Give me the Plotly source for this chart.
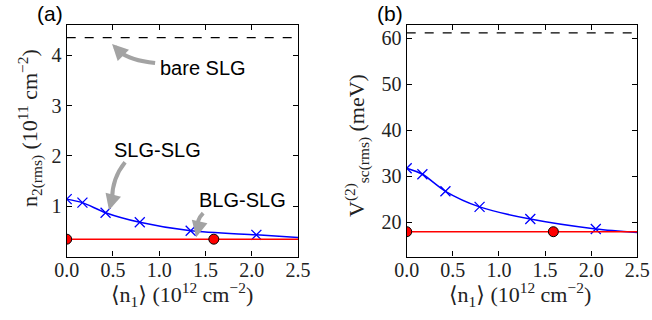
import plotly.graph_objects as go

# ---- data ----
n1_pts = [0.0, 0.17, 0.42, 0.79, 1.34, 2.05]          # <n1> (1e12 cm^-2), SLG-SLG samples
n2_slg = [1.14, 1.07, 0.87, 0.68, 0.51, 0.43]          # n2(rms) (1e11 cm^-2)
vsc_slg = [31.7, 30.4, 26.7, 23.3, 20.65, 18.5]        # Vsc(rms) (meV)
n1_end = 2.5
n2_slg_end = 0.378
vsc_slg_end = 17.75

n1_blg = [0.0, 1.59]                                   # BLG-SLG samples
n2_blg = 0.344
vsc_blg = 17.9

n2_bare = 4.35                                         # bare SLG levels
vsc_bare = 61.2

x_ticks = [0.0, 0.5, 1.0, 1.5, 2.0, 2.5]
x_tick_text = ["0.0", "0.5", "1.0", "1.5", "2.0", "2.5"]
y1_ticks = [1, 2, 3, 4]
y2_ticks = [20, 30, 40, 50, 60]

W, H = 652, 320
SERIF = "Liberation Serif, 'Times New Roman', 'DejaVu Serif', serif"
SANS = "Liberation Sans, Arial, sans-serif"
GRAY = "#a3a3a3"

fig = go.Figure()

def add_panel(xa, ya, slg, slg_end, blg, bare):
    # smooth SLG-SLG curve
    fig.add_trace(go.Scatter(
        x=n1_pts + [n1_end], y=slg + [slg_end], mode="lines",
        line=dict(color="#0000ff", width=1.5, shape="spline", smoothing=0.8),
        xaxis=xa, yaxis=ya, showlegend=False, hoverinfo="skip"))
    fig.add_trace(go.Scatter(
        x=n1_pts, y=slg, mode="markers",
        marker=dict(symbol="x-thin", size=10, line=dict(color="#0000ff", width=1.3)),
        xaxis=xa, yaxis=ya, showlegend=False))
    # BLG-SLG flat level
    fig.add_trace(go.Scatter(
        x=[n1_blg[0], n1_end], y=[blg, blg], mode="lines",
        line=dict(color="#ff0000", width=1.5),
        xaxis=xa, yaxis=ya, showlegend=False, hoverinfo="skip"))
    fig.add_trace(go.Scatter(
        x=n1_blg, y=[blg] * len(n1_blg), mode="markers",
        marker=dict(symbol="circle", size=10, color="#ff0000",
                    line=dict(color="black", width=1)),
        xaxis=xa, yaxis=ya, showlegend=False))
    # bare SLG level
    fig.add_trace(go.Scatter(
        x=[0, n1_end], y=[bare, bare], mode="lines",
        line=dict(color="black", width=1.2, dash="dash"),
        xaxis=xa, yaxis=ya, showlegend=False, hoverinfo="skip"))

add_panel("x", "y", n2_slg, n2_slg_end, n2_blg, n2_bare)
add_panel("x2", "y2", vsc_slg, vsc_slg_end, vsc_blg, vsc_bare)

axis_common = dict(
    showgrid=False, zeroline=False, showline=True, linecolor="black", linewidth=1.2,
    mirror="ticks", ticks="inside", ticklen=5, tickwidth=1, tickcolor="black",
    tickfont=dict(family=SERIF, size=20, color="#222"), automargin=False,
)

fig.update_layout(
    width=W, height=H, margin=dict(l=0, r=0, t=0, b=0),
    paper_bgcolor="white", plot_bgcolor="white",
    xaxis=dict(domain=[66.7 / W, 298 / W], range=[0, 2.5], tickvals=x_ticks,
               ticktext=x_tick_text, anchor="y", ticklabelstandoff=-5, **axis_common),
    yaxis=dict(domain=[1 - 256.5 / H, 1 - 25 / H], range=[0, 4.6], tickvals=y1_ticks,
               anchor="x", **axis_common),
    xaxis2=dict(domain=[406.7 / W, 637.3 / W], range=[0, 2.5], tickvals=x_ticks,
                ticktext=x_tick_text, anchor="y2", ticklabelstandoff=-5, **axis_common),
    yaxis2=dict(domain=[1 - 256.5 / H, 1 - 25 / H], range=[12.5, 62.9], tickvals=y2_ticks,
                anchor="x2", **axis_common),
)

ann = []

def paper_text(px, py, text, font, angle=0):
    ann.append(dict(x=px / W, y=1 - py / H, xref="paper", yref="paper", text=text,
                    xanchor="center", yanchor="middle", textangle=angle,
                    showarrow=False, font=font))

title_font = dict(family=SERIF, size=22, color="#222")
xlab = "⟨n<sub>1</sub>⟩ (10<sup>12</sup> cm<sup>−2</sup>)"
paper_text(182, 294, xlab, title_font)
paper_text(520, 294, xlab, title_font)
paper_text(30, 128, "n<sub>2(rms)</sub> (10<sup>11</sup> cm<sup>−2</sup>)", title_font, -90)
paper_text(357, 145, "V<sup>(2)</sup><sub>sc(rms)</sub> (meV)", title_font, -90)
# panel letters
paper_text(50, 13, "(a)", dict(family=SANS, size=21, color="black"))
paper_text(390, 13, "(b)", dict(family=SANS, size=21, color="black"))

# labels and curved pointers in panel (a)
lab_font = dict(family=SANS, size=20, color="black")
for lx, ly, txt in [(1.47, 3.74, "bare SLG"), (0.98, 2.11, "SLG-SLG"), (1.90, 1.12, "BLG-SLG")]:
    ann.append(dict(x=lx, y=ly, xref="x", yref="y", text=txt, xanchor="center",
                    yanchor="middle", showarrow=False, font=lab_font))

def px2d(px, py):
    return (px - 66.7) / 92.4, (256.3 - py) / 50.3

pointers = [
    # (tail, control, base of head, tip)
    ((155, 63), (130, 60), (120, 52), (112, 44)),
    ((125, 162), (112, 178), (112, 199), (109, 210)),
    ((203, 213), (196, 220), (198, 228), (196, 237)),
]
shapes = []
for tail, ctrl, base, tip in pointers:
    t, c, b, p = (px2d(*q) for q in (tail, ctrl, base, tip))
    shapes.append(dict(type="path", xref="x", yref="y",
                       path=f"M {t[0]},{t[1]} Q {c[0]},{c[1]} {b[0]},{b[1]}",
                       line=dict(color=GRAY, width=4)))
    ann.append(dict(x=p[0], y=p[1], ax=b[0], ay=b[1], xref="x", yref="y",
                    axref="x", ayref="y", text="", showarrow=True,
                    arrowhead=2, arrowsize=0.8, arrowwidth=4, arrowcolor=GRAY, standoff=0))

fig.update_layout(annotations=ann, shapes=shapes)

fig.write_html("out.html")
